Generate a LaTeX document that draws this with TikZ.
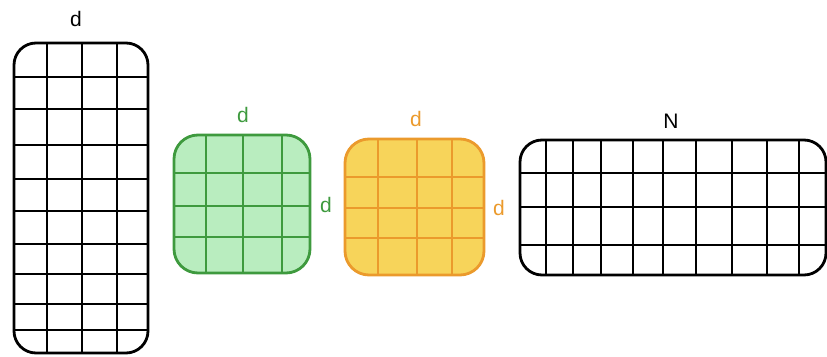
\documentclass[tikz,border=0pt]{standalone}
\usepackage{fontspec}
\setmainfont{Liberation Sans}
\definecolor{gstroke}{HTML}{3E9A3E}
\definecolor{gfill}{HTML}{B9EDBF}
\definecolor{ostroke}{HTML}{EB9A2C}
\definecolor{ofill}{HTML}{F7D45A}
\tikzset{
  box/.style={line width=2.8pt, rounded corners=22pt},
  gridline/.style={line width=2.8pt},
  lbl/.style={font=\fontsize{21}{24}\selectfont, inner sep=0pt, anchor=base},
}
\begin{document}
\begin{tikzpicture}[x=1pt,y=-1pt]
\useasboundingbox (0,0) rectangle (827,356);
% left tall matrix
\begin{scope}
\clip[rounded corners=22pt] (14,43) rectangle (148,353);
\foreach \x in {47,82,117} \draw[gridline] (\x,43) -- (\x,353);
\foreach \y in {77,109,145,179,211,244,274,304,330} \draw[gridline] (14,\y) -- (148,\y);
\end{scope}
\draw[box] (14,43) rectangle (148,353);
\node[lbl] (dL) at (76,26) {d};
% green square
\fill[gfill, rounded corners=24pt] (174,135) rectangle (310,273);
\begin{scope}
\clip[rounded corners=24pt] (174,135) rectangle (310,273);
\foreach \x in {206,243,282} \draw[gridline, gstroke] (\x,135) -- (\x,273);
\foreach \y in {173,206,237} \draw[gridline, gstroke] (174,\y) -- (310,\y);
\end{scope}
\draw[box, gstroke, rounded corners=24pt] (174,135) rectangle (310,273);
\node[lbl, text=gstroke] (dGt) at (243,122) {d};
\node[lbl, text=gstroke] (dGr) at (326,212) {d};
% orange square
\fill[ofill, rounded corners=24pt] (345,139) rectangle (484,275);
\begin{scope}
\clip[rounded corners=24pt] (345,139) rectangle (484,275);
\foreach \x in {378,417,452} \draw[gridline, ostroke] (\x,139) -- (\x,275);
\foreach \y in {177,208,238} \draw[gridline, ostroke] (345,\y) -- (484,\y);
\end{scope}
\draw[box, ostroke, rounded corners=24pt] (345,139) rectangle (484,275);
\node[lbl, text=ostroke] (dOt) at (416,126) {d};
\node[lbl, text=ostroke] (dOr) at (499,215) {d};
% right wide matrix
\begin{scope}
\clip[rounded corners=22pt] (520,140) rectangle (826,275);
\foreach \x in {546,573,601,633,663,696,732,767,799} \draw[gridline] (\x,140) -- (\x,275);
\foreach \y in {173,207,245} \draw[gridline] (520,\y) -- (826,\y);
\end{scope}
\draw[box] (520,140) rectangle (826,275);
\node[lbl] (N) at (671,128) {N};
\end{tikzpicture}
\end{document}
